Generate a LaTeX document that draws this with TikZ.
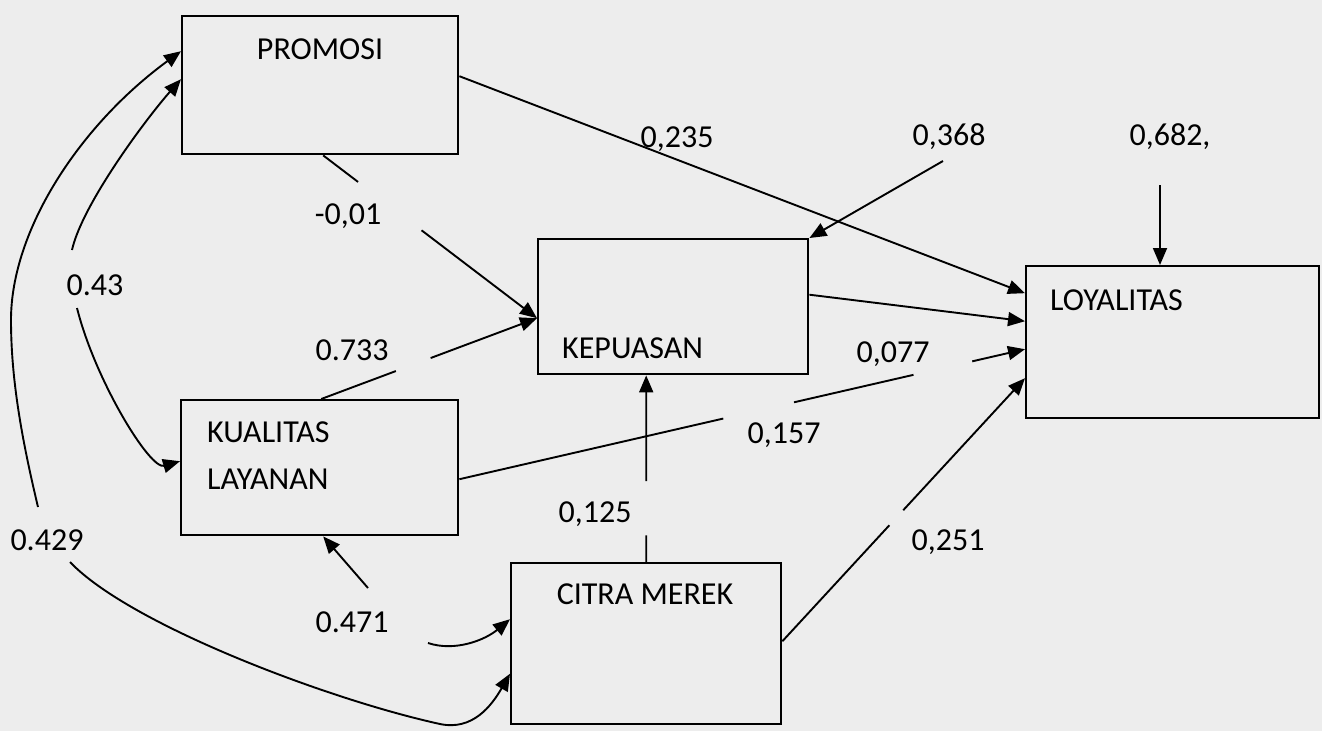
\documentclass[tikz,border=0pt]{standalone}
\usepackage{fontspec}
\setmainfont{Carlito}
\usetikzlibrary{arrows.meta,calc}
\begin{document}
\begin{tikzpicture}[x=1pt,y=-1pt,
  varbox/.style={draw, line width=2.4pt, inner sep=0pt, anchor=north west},
  boxtext/.style={inner sep=0pt, font=\fontsize{32}{38}\selectfont},
  lbl/.style={inner sep=0pt, anchor=base, font=\fontsize{32}{38}\selectfont},
  con/.style={line width=1.9pt},
  arr/.style={con, -{Triangle[length=17pt,width=14pt]}},
]
\path[use as bounding box, fill=black!7] (0,0) rectangle (1322,731);

% boxes
\node[varbox, minimum width=276pt, minimum height=138pt] (promo) at (181,15) {};
\node[varbox, minimum width=270pt, minimum height=135pt] (kep) at (537,238) {};
\node[varbox, minimum width=293pt, minimum height=152pt] (loy) at (1025,265) {};
\node[varbox, minimum width=277pt, minimum height=135pt] (kual) at (180,399) {};
\node[varbox, minimum width=270pt, minimum height=161pt] (citra) at (510,562) {};

% box texts
\node[boxtext, anchor=base] (tpromo) at (320,59) {PROMOSI};
\node[boxtext, anchor=base west] (tkep) at (562,358) {KEPUASAN};
\node[boxtext, anchor=base west] (tloy) at (1050,310) {LOYALITAS};
\node[boxtext, anchor=base west] (tkual1) at (207,442) {KUALITAS};
\node[boxtext, anchor=base west] (tkual2) at (207,489) {LAYANAN};
\node[boxtext, anchor=base] (tcitra) at (645,604) {CITRA MEREK};

% labels
\node[lbl] (l235) at (677,147) {0,235};
\node[lbl] (l368) at (949,145) {0,368};
\node[lbl] (l682) at (1170,145) {0,682,};
\node[lbl] (l001) at (348,224) {-0,01};
\node[lbl] (l43) at (95,295) {0.43};
\node[lbl] (l733) at (352,360) {0.733};
\node[lbl] (l077) at (893,362) {0,077};
\node[lbl] (l157) at (784,443) {0,157};
\node[lbl] (l125) at (595,522) {0,125};
\node[lbl] (l251) at (948,550) {0,251};
\node[lbl] (l429) at (47,550) {0.429};
\node[lbl] (l471) at (352,632) {0.471};

% PROMOSI -> LOYALITAS
\draw[arr] ([yshift=9pt]promo.east) -- ([yshift=49pt]loy.west);
% KEPUASAN -> LOYALITAS
\draw[arr] ([yshift=12pt]kep.east) -- ([yshift=21pt]loy.west);
% KUALITAS -> LOYALITAS (broken)
\coordinate (k1) at ([yshift=-11.5pt]kual.east);
\coordinate (k2) at ([yshift=-7pt]loy.west);
\draw[con] (k1) -- ($(k1)!0.4665!(k2)$);
\draw[con] ($(k1)!0.5915!(k2)$) -- ($(k1)!0.8028!(k2)$);
\draw[arr] ($(k1)!0.9067!(k2)$) -- (k2);
% CITRA -> LOYALITAS
\coordinate (c1) at ([yshift=2.5pt]citra.east);
\coordinate (c2) at ([yshift=-36pt]loy.west);
\draw[con] (c1) -- ($(c1)!0.441!(c2)$);
\draw[arr] ($(c1)!0.498!(c2)$) -- (c2);
% CITRA -> KEPUASAN
\coordinate (v1) at (citra.north);
\coordinate (v2) at (citra.north |- kep.south);
\draw[con] (v1) -- ($(v1)!0.143!(v2)$);
\draw[arr] ($(v1)!0.434!(v2)$) -- (v2);
% PROMOSI -> KEPUASAN
\coordinate (p1) at ([xshift=3pt]promo.south);
\coordinate (p2) at ([yshift=-11.5pt]kep.west);
\draw[con] (p1) -- ($(p1)!0.163!(p2)$);
\draw[arr] ($(p1)!0.46!(p2)$) -- (p2);
% KUALITAS -> KEPUASAN
\coordinate (q1) at ([xshift=1.5pt]kual.north);
\draw[con] (q1) -- ($(q1)!0.346!(p2)$);
\draw[arr] ($(q1)!0.507!(p2)$) -- (p2);
% residual arrows
\coordinate (r368) at (943,161);
\draw[arr] (r368) -- (kep.north east);
\coordinate (r682) at (1160,185);
\draw[arr] (r682) -- (r682 |- loy.north);
% 0.471
\coordinate (s1) at (368,588);
\draw[arr] (s1) -- ([xshift=3.5pt]kual.south);
\coordinate (s2) at (428,643);
\draw[arr] (s2) .. controls (455,652) and (485,640) .. ([yshift=24.5pt]citra.west);
% 0.429 outer curve
\coordinate (o1) at (38,507);
\draw[arr] (o1) .. controls (22,440) and (11,380) .. (11,320) .. controls (11,230) and (80,125) .. ([yshift=34pt]promo.west);
\coordinate (o2) at (70,562);
\draw[arr] (o2) .. controls (130,625) and (330,700) .. (440,724) .. controls (473,731) and (492,705) .. ([yshift=-30pt]citra.west);
% 0.43 inner curve
\coordinate (i1) at (72,250);
\draw[arr] (i1) .. controls (82,205) and (145,120) .. ([yshift=6pt]promo.west);
\coordinate (i2) at (77,308);
\draw[arr] (i2) .. controls (95,380) and (150,470) .. ([yshift=6.5pt]kual.west);
\end{tikzpicture}
\end{document}
